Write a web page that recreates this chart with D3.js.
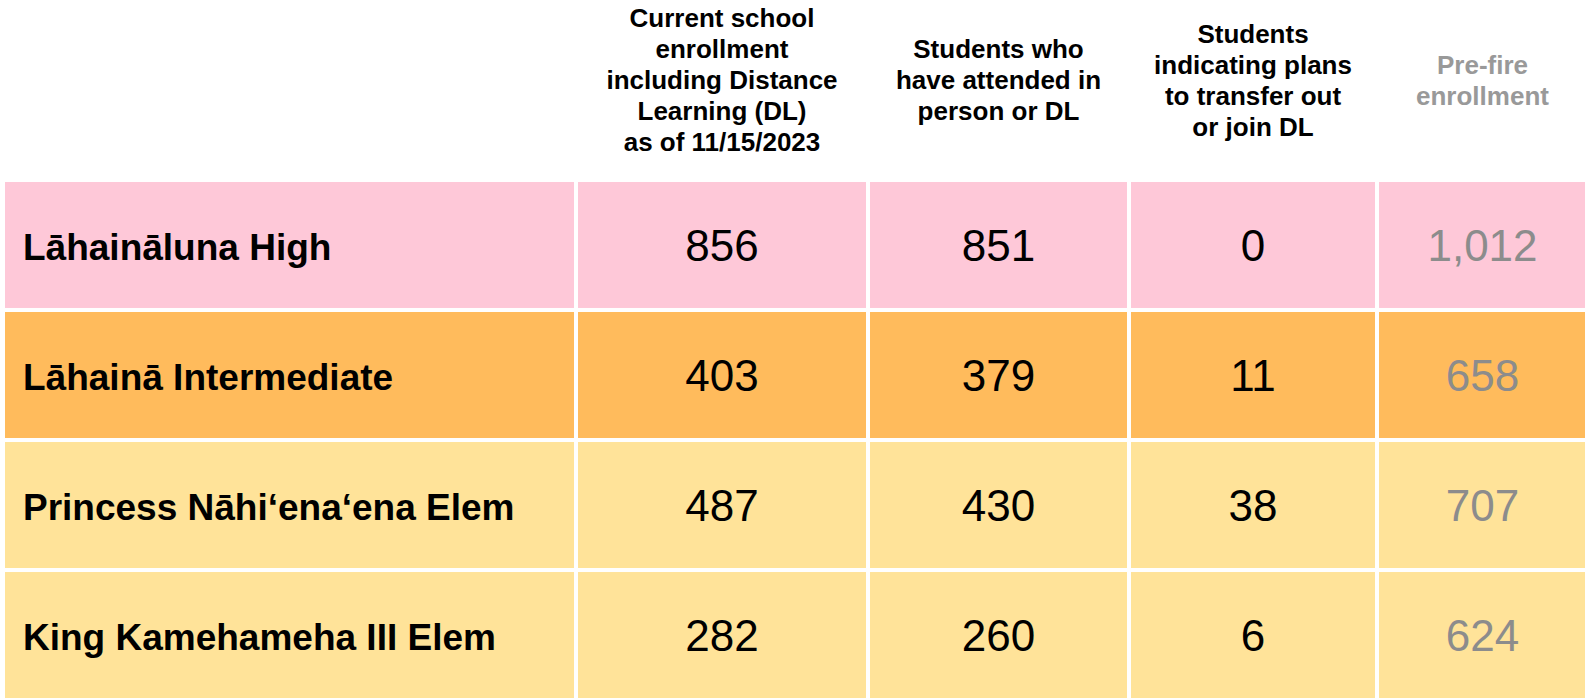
<!DOCTYPE html>
<html lang="en">
<head>
    <meta charset="UTF-8">
    <title>Lahaina school enrollment</title>
    <script src="https://d3js.org/d3.v7.min.js"></script>
    <style>
        body { margin: 0; background: #fff; }
        svg { display: block; font-family: "Liberation Sans", Arial, sans-serif; }
    </style>
</head>
<body>
    <svg id="chart" width="1585" height="698"></svg>

    <script>
        // data
        const schools = ["Lāhaināluna High", "Lāhainā Intermediate", "Princess Nāhi‘ena‘ena Elem", "King Kamehameha III Elem"];
        const currentEnrollment = [856, 403, 487, 282];
        const attended = [851, 379, 430, 260];
        const transferOut = [0, 11, 38, 6];
        const preFire = [1012, 658, 707, 624];
        const headers = [
            ["Current school", "enrollment", "including Distance", "Learning (DL)", "as of 11/15/2023"],
            ["Students who", "have attended in", "person or DL"],
            ["Students", "indicating plans", "to transfer out", "or join DL"],
            ["Pre-fire", "enrollment"]
        ];

        // layout
        const width = 1585, height = 698;
        const colEdges = [5, 578, 870, 1131, 1379, 1590];
        const gap = 4;
        const rowColors = ["#fec8d8", "#ffbb5c", "#ffe399", "#ffe399"];

        const svg = d3.select("#chart");

        const y = d3.scaleBand()
            .domain(schools)
            .range([182, 698])
            .paddingInner(0.031);

        const cols = [
            { key: "name", values: schools },
            { key: "current", values: currentEnrollment },
            { key: "attended", values: attended },
            { key: "transfer", values: transferOut },
            { key: "prefire", values: preFire }
        ];
        cols.forEach((c, i) => {
            c.x0 = colEdges[i];
            c.x1 = colEdges[i + 1] - gap;
            c.cx = (c.x0 + c.x1) / 2;
        });

        const fmt = d3.format(",");

        // cells
        const rows = svg.selectAll("g.row")
            .data(schools)
            .enter().append("g")
            .attr("class", "row")
            .attr("transform", d => `translate(0,${y(d)})`);

        rows.each(function (school, ri) {
            const g = d3.select(this);
            const h = y.bandwidth();
            cols.forEach((c, ci) => {
                g.append("rect")
                    .attr("x", c.x0)
                    .attr("width", c.x1 - c.x0)
                    .attr("height", h)
                    .attr("fill", rowColors[ri]);

                if (ci === 0) {
                    g.append("text")
                        .attr("x", 23)
                        .attr("y", h / 2 + 1)
                        .attr("dy", "0.38em")
                        .style("font-size", "37px")
                        .style("font-weight", "bold")
                        .attr("fill", "#000")
                        .text(school);
                } else {
                    g.append("text")
                        .attr("x", c.cx)
                        .attr("y", h / 2)
                        .attr("dy", "0.36em")
                        .attr("text-anchor", "middle")
                        .style("font-size", "44px")
                        .attr("fill", ci === 4 ? "#8c8c8c" : "#000")
                        .text(fmt(c.values[ri]));
                }
            });
        });

        // header
        const lineGap = 31;
        const headCenter = 80;
        headers.forEach((lines, i) => {
            const c = cols[i + 1];
            const t = svg.append("text")
                .attr("text-anchor", "middle")
                .style("font-size", "26px")
                .style("font-weight", "bold")
                .attr("fill", i === 3 ? "#999999" : "#000");
            lines.forEach((ln, li) => {
                t.append("tspan")
                    .attr("x", c.cx)
                    .attr("y", headCenter + (li - (lines.length - 1) / 2) * lineGap + 9)
                    .text(ln);
            });
        });
    </script>
</body>
</html>
